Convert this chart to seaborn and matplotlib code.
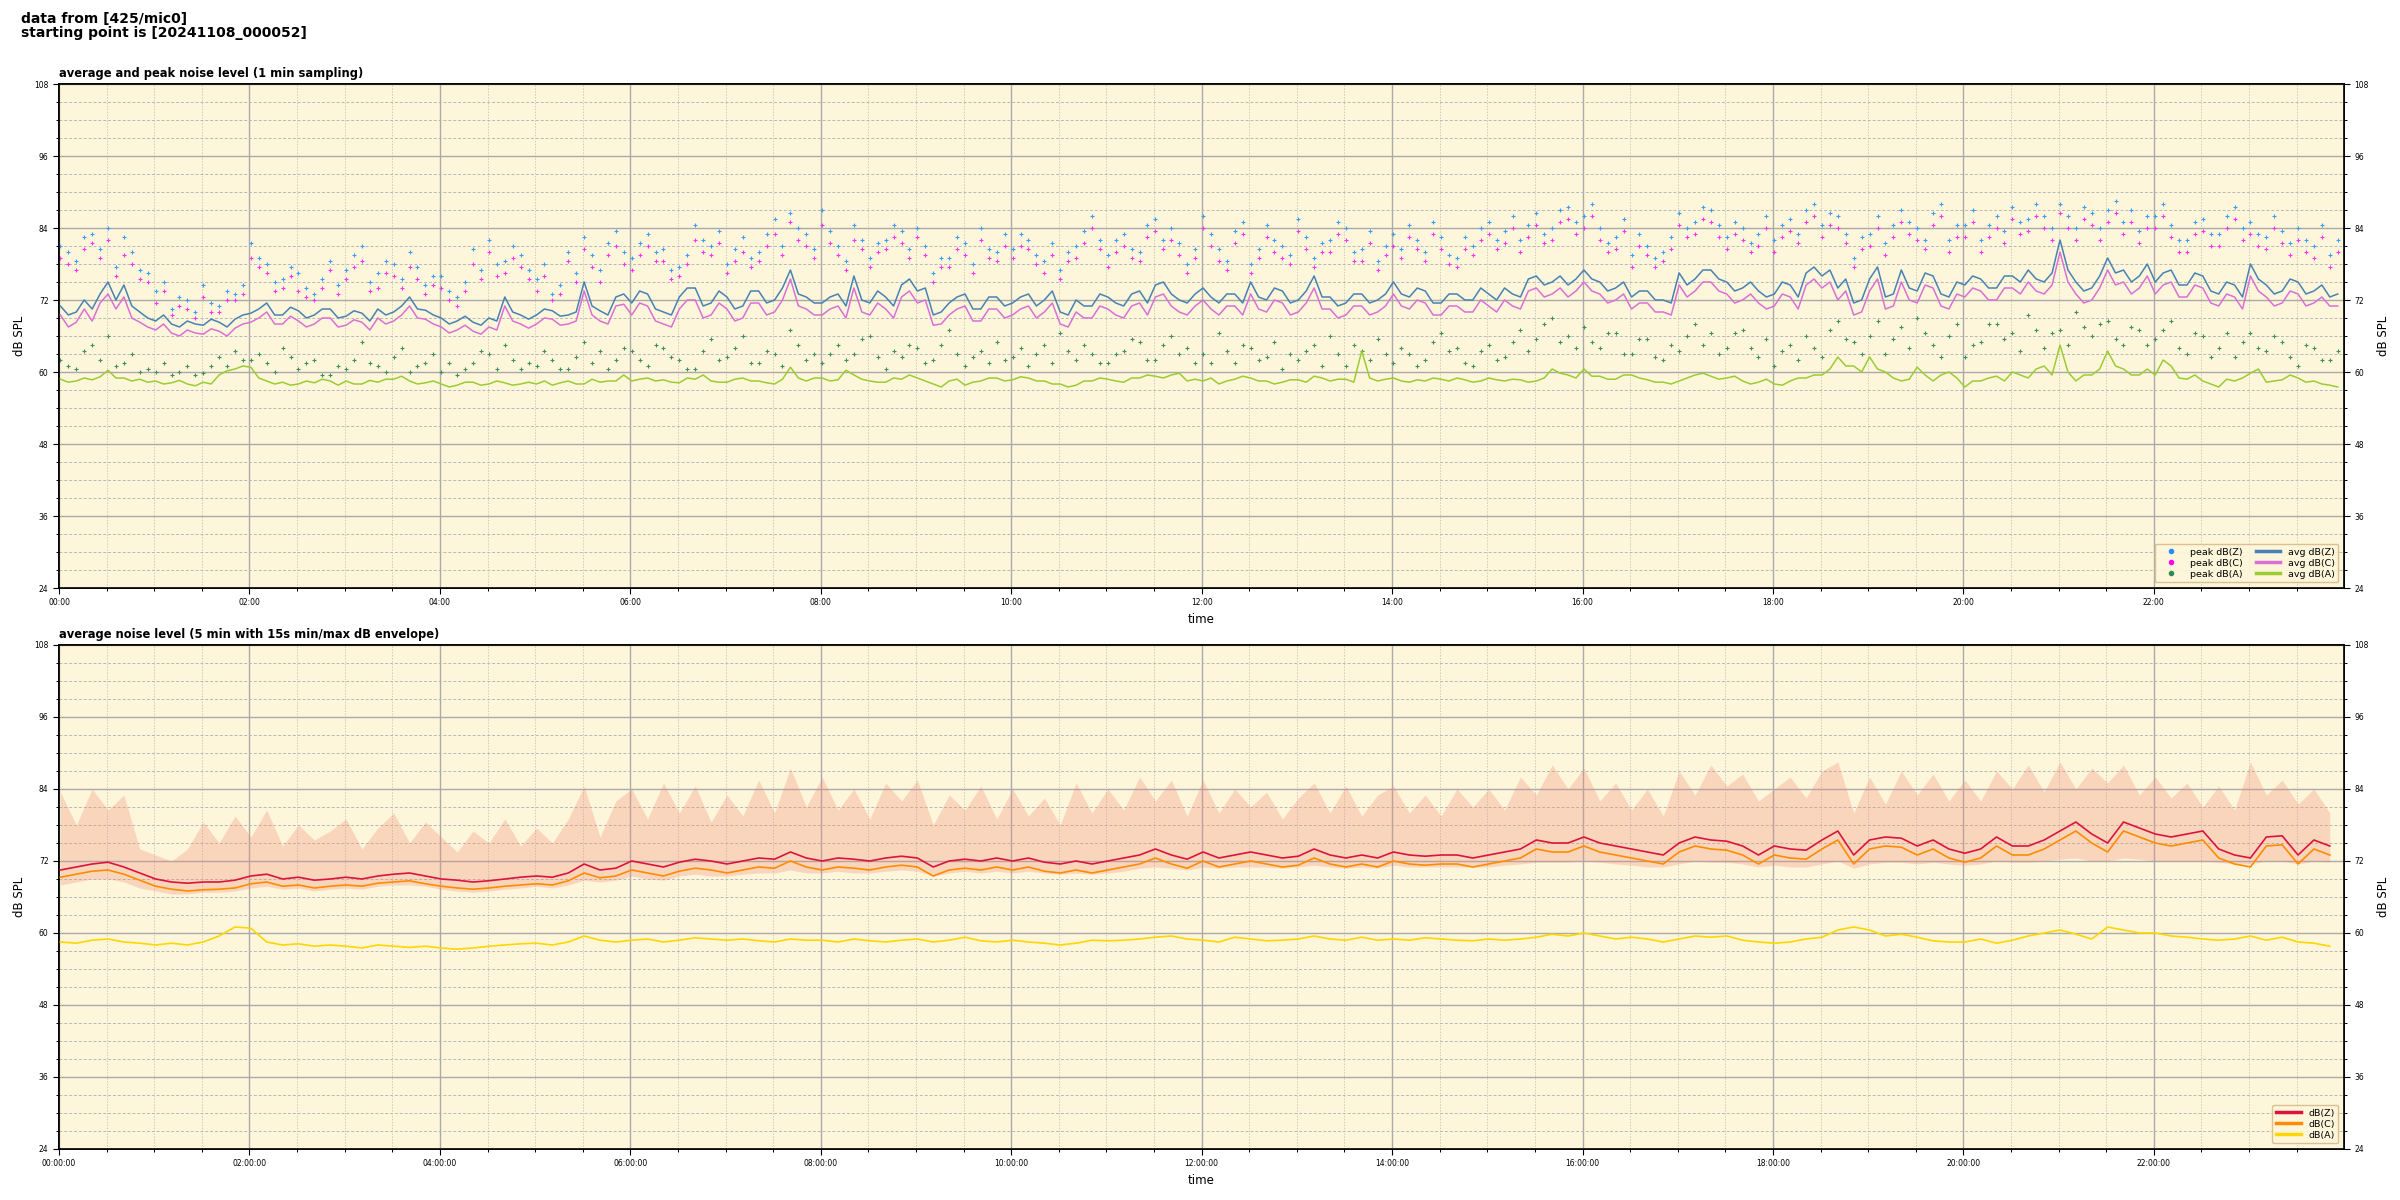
import numpy as np
import pandas as pd
import matplotlib
matplotlib.use("Agg")
import matplotlib.pyplot as plt
import matplotlib.dates as mdates
from matplotlib.lines import Line2D
from matplotlib.ticker import MultipleLocator
import seaborn as sns

# ---------------- top panel data (5-minute samples, one row per hour) ----------------
avg_z = [71.0, 69.5, 70.0, 72.0, 70.5, 73.0, 75.0, 72.0, 74.5, 71.0, 70.0, 69.0,
         68.5, 69.5, 68.0, 67.5, 68.5, 68.0, 67.8, 68.8, 68.3, 67.5, 68.8, 69.5,
         69.8, 70.5, 71.5, 69.5, 69.5, 70.8, 70.2, 69.0, 69.5, 70.5, 70.5, 69.0,
         69.3, 70.2, 69.8, 68.5, 70.5, 69.5, 70.0, 71.0, 72.5, 70.5, 70.3, 69.5,
         69.0, 68.0, 68.5, 69.3, 68.3, 67.8, 69.0, 68.5, 72.5, 70.0, 69.5, 68.8,
         69.5, 70.5, 70.2, 69.3, 69.5, 70.0, 75.0, 71.0, 70.2, 69.5, 72.5, 73.0,
         71.5, 73.5, 73.0, 70.5, 70.0, 69.5, 72.5, 74.0, 74.0, 71.0, 71.5, 73.5,
         72.5, 70.5, 71.0, 73.5, 73.5, 71.5, 72.0, 74.0, 77.0, 73.0, 72.5, 71.5,
         71.5, 72.5, 73.0, 71.0, 76.0, 72.0, 71.5, 73.5, 72.5, 71.0, 74.5, 75.5,
         73.5, 74.0, 69.5, 70.0, 71.5, 72.5, 73.0, 70.5, 70.5, 72.5, 72.5, 71.0,
         71.5, 72.5, 73.0, 71.0, 72.0, 73.5, 70.0, 69.5, 72.0, 71.0, 71.0, 73.0,
         72.5, 71.5, 71.0, 73.0, 73.5, 71.5, 74.5, 75.0, 73.0, 72.0, 71.5, 73.0,
         74.0, 72.5, 71.5, 73.0, 73.0, 71.5, 75.0, 72.5, 72.0, 74.0, 73.5, 71.5,
         72.0, 73.5, 76.0, 72.5, 72.5, 71.0, 71.5, 73.0, 73.0, 71.5, 72.0, 73.0,
         75.0, 73.0, 72.5, 74.0, 73.5, 71.5, 71.5, 73.0, 73.0, 72.0, 72.0, 74.0,
         73.0, 72.0, 74.0, 73.0, 72.5, 75.5, 76.0, 74.5, 75.0, 76.0, 74.5, 75.5,
         77.0, 75.5, 75.0, 73.5, 74.0, 75.0, 72.5, 73.5, 73.5, 72.0, 72.0, 71.5,
         76.5, 74.5, 75.5, 77.0, 77.0, 75.5, 75.0, 73.5, 74.0, 75.0, 73.5, 72.5,
         73.0, 75.0, 74.5, 72.5, 76.5, 77.5, 76.0, 77.0, 74.0, 75.5, 71.5, 72.0,
         75.5, 77.5, 72.5, 73.0, 77.0, 74.0, 73.5, 76.5, 76.0, 73.0, 72.5, 75.0,
         74.5, 76.0, 75.5, 74.0, 74.0, 76.0, 76.0, 75.0, 77.0, 75.5, 75.0, 76.5,
         82.0, 77.0, 75.0, 73.5, 74.0, 76.0, 79.0, 76.5, 77.0, 75.0, 76.0, 78.0,
         75.0, 76.5, 77.0, 74.5, 74.5, 76.5, 76.0, 73.5, 73.0, 75.0, 74.5, 72.5,
         78.0, 75.5, 74.5, 73.0, 73.5, 75.5, 75.0, 73.0, 73.5, 74.5, 72.5, 73.0]

avg_c = [69.5, 67.5, 68.3, 70.5, 68.5, 71.5, 73.0, 70.5, 72.5, 69.0, 68.3, 67.5,
         67.0, 68.0, 66.5, 66.0, 67.0, 66.5, 66.3, 67.2, 66.8, 66.0, 67.3, 68.0,
         68.3, 69.0, 70.0, 68.0, 68.0, 69.3, 68.5, 67.5, 68.0, 69.0, 69.0, 67.5,
         67.8, 68.7, 68.3, 67.0, 69.0, 68.0, 68.5, 69.5, 71.0, 69.0, 68.8, 68.0,
         67.5, 66.5, 67.0, 67.8, 66.8, 66.3, 67.5, 67.0, 71.0, 68.5, 68.0, 67.3,
         68.0, 69.0, 68.8, 67.8, 68.0, 68.5, 73.5, 69.5, 68.5, 68.0, 71.0, 71.3,
         69.5, 71.5, 71.0, 68.5, 68.0, 67.5, 70.5, 72.0, 72.0, 69.0, 69.5, 71.5,
         70.5, 68.5, 69.0, 71.5, 71.5, 69.5, 70.0, 72.0, 75.5, 71.0, 70.5, 69.5,
         69.5, 70.5, 71.0, 69.0, 74.0, 70.0, 69.5, 71.5, 70.5, 69.0, 72.5, 73.5,
         71.5, 72.0, 67.8, 68.0, 69.5, 70.5, 71.0, 68.5, 68.5, 70.5, 70.5, 69.0,
         69.5, 70.5, 71.0, 69.0, 70.0, 71.5, 68.0, 67.5, 70.0, 69.0, 69.0, 71.0,
         70.5, 69.5, 69.0, 71.0, 71.5, 69.5, 72.5, 73.0, 71.0, 70.0, 69.5, 71.0,
         72.0, 70.5, 69.5, 71.0, 71.0, 69.5, 73.0, 70.5, 70.0, 72.0, 71.5, 69.5,
         70.0, 71.5, 74.0, 70.5, 70.5, 69.0, 69.5, 71.0, 71.0, 69.5, 70.0, 71.0,
         73.0, 71.0, 70.5, 72.0, 71.5, 69.5, 69.5, 71.0, 71.0, 70.0, 70.0, 72.0,
         71.0, 70.0, 72.0, 71.0, 70.5, 73.5, 74.0, 72.5, 73.0, 74.0, 72.5, 73.5,
         75.0, 73.5, 73.0, 71.5, 72.0, 73.0, 70.5, 71.5, 71.5, 70.0, 70.0, 69.5,
         74.5, 72.5, 73.5, 75.0, 75.0, 73.5, 73.0, 71.5, 72.0, 73.0, 71.5, 70.5,
         71.0, 73.0, 72.5, 70.5, 74.5, 75.5, 74.0, 75.0, 72.0, 73.5, 69.5, 70.0,
         73.5, 75.5, 70.5, 71.0, 75.0, 72.0, 71.5, 74.5, 74.0, 71.0, 70.5, 73.0,
         72.5, 74.0, 73.5, 72.0, 72.0, 74.0, 74.0, 73.0, 75.0, 73.5, 73.0, 74.5,
         80.0, 75.0, 73.0, 71.5, 72.0, 74.0, 77.0, 74.5, 75.0, 73.0, 74.0, 76.0,
         73.0, 74.5, 75.0, 72.5, 72.5, 74.5, 74.0, 71.5, 71.0, 73.0, 72.5, 70.5,
         76.0, 73.5, 72.5, 71.0, 71.5, 73.5, 73.0, 71.0, 71.5, 72.5, 71.0, 71.0]

avg_a = [58.8, 58.3, 58.5, 59.0, 58.7, 59.2, 60.3, 59.0, 59.0, 58.5, 58.8, 58.3,
         58.5, 58.0, 58.2, 58.6, 58.0, 57.7, 58.3, 58.0, 59.5, 60.2, 60.5, 61.0,
         60.8, 59.0, 58.5, 58.0, 58.3, 57.8, 58.0, 58.5, 58.2, 58.8, 58.5, 57.8,
         58.5, 58.0, 58.0, 58.6, 58.3, 58.8, 58.8, 59.3, 58.5, 58.0, 58.2, 58.5,
         58.0, 57.5, 57.8, 58.3, 58.3, 57.8, 58.0, 58.5, 58.2, 57.8, 58.0, 58.3,
         58.0, 58.5, 57.8, 58.2, 58.5, 58.0, 58.0, 58.8, 58.3, 58.5, 58.5, 59.5,
         58.5, 58.8, 59.0, 58.5, 58.7, 58.3, 58.2, 59.0, 58.8, 59.5, 58.5, 58.3,
         58.3, 58.8, 59.0, 58.5, 58.5, 58.2, 58.0, 58.8, 60.8, 59.0, 58.5, 59.0,
         59.0, 58.5, 58.7, 60.3, 59.5, 58.8, 58.5, 58.3, 58.3, 59.0, 58.8, 59.5,
         59.0, 58.5, 58.0, 57.5, 58.5, 58.8, 57.8, 58.3, 58.5, 59.0, 59.0, 58.5,
         58.7, 59.2, 59.0, 58.5, 58.5, 58.0, 58.0, 57.5, 57.8, 58.5, 58.5, 59.0,
         58.8, 58.5, 58.3, 59.0, 59.0, 59.5, 59.3, 59.0, 59.5, 59.8, 58.5, 58.8,
         58.5, 59.0, 58.0, 58.5, 58.8, 59.3, 59.0, 58.5, 58.5, 58.0, 58.3, 58.7,
         58.7, 58.3, 59.3, 59.0, 58.5, 58.8, 58.8, 58.3, 63.5, 59.0, 58.5, 58.8,
         59.0, 58.5, 58.3, 58.7, 58.5, 59.0, 58.8, 58.5, 59.0, 58.7, 58.3, 58.5,
         59.0, 58.7, 58.5, 58.8, 58.7, 58.3, 58.5, 59.0, 60.5, 59.8, 59.5, 59.0,
         60.5, 59.3, 59.3, 58.8, 58.8, 59.5, 59.5, 59.0, 58.7, 58.3, 58.3, 58.0,
         58.5, 59.0, 59.5, 59.8, 59.3, 58.8, 59.0, 59.3, 58.5, 58.0, 58.3, 58.8,
         58.0, 57.8, 58.5, 59.0, 59.0, 59.5, 59.5, 60.5, 62.5, 61.0, 61.0, 60.0,
         62.5, 60.5, 60.0, 59.0, 58.5, 58.8, 60.8, 59.5, 58.5, 59.5, 60.0, 59.0,
         57.5, 58.5, 58.5, 59.0, 59.3, 58.5, 60.0, 59.5, 59.0, 60.5, 61.0, 59.5,
         64.5, 60.0, 58.5, 59.5, 59.5, 60.5, 63.5, 61.0, 60.5, 59.5, 59.5, 60.5,
         59.5, 62.0, 61.0, 59.0, 58.8, 59.5, 58.5, 58.0, 57.5, 58.8, 58.5, 59.0,
         59.8, 60.5, 58.3, 58.5, 58.7, 59.5, 59.0, 58.3, 58.5, 58.0, 57.8, 57.5]

peak_z = [81.0, 80.0, 78.5, 82.5, 83.0, 80.5, 84.0, 77.5, 82.5, 80.0, 77.0, 76.5,
          73.5, 75.0, 70.5, 72.5, 72.0, 70.0, 74.5, 71.5, 71.0, 73.5, 73.0, 74.5,
          81.5, 79.0, 78.0, 75.0, 75.5, 77.5, 76.5, 74.0, 73.0, 75.5, 78.5, 74.5,
          77.0, 79.5, 81.0, 75.0, 76.5, 78.5, 78.0, 75.5, 80.0, 77.5, 74.5, 76.0,
          76.0, 73.5, 72.5, 75.0, 80.5, 77.0, 82.0, 78.0, 78.5, 81.0, 79.5, 77.0,
          75.5, 78.0, 73.0, 74.5, 80.0, 76.5, 82.5, 79.5, 77.0, 81.5, 83.5, 80.0,
          79.0, 81.5, 83.0, 80.0, 80.5, 77.0, 77.5, 79.5, 84.5, 82.0, 81.0, 83.5,
          78.0, 80.5, 82.5, 79.0, 80.0, 83.0, 85.5, 81.0, 86.5, 84.0, 83.0, 80.5,
          87.0, 83.5, 81.0, 78.5, 84.5, 82.0, 79.0, 81.5, 82.0, 84.5, 83.5, 80.5,
          84.0, 81.0, 76.5, 79.0, 79.0, 82.5, 81.5, 78.0, 84.0, 80.5, 80.0, 83.0,
          80.5, 83.0, 82.0, 79.5, 78.5, 81.5, 77.0, 80.0, 81.0, 83.5, 86.0, 82.0,
          79.5, 82.0, 83.0, 80.5, 80.0, 84.5, 85.5, 82.0, 84.0, 81.5, 78.0, 80.5,
          86.0, 83.0, 80.5, 78.5, 83.5, 85.0, 78.0, 80.5, 84.5, 82.0, 81.0, 79.5,
          85.5, 82.5, 79.0, 81.5, 82.0, 85.0, 84.0, 80.0, 80.5, 83.5, 78.5, 81.0,
          83.0, 80.5, 84.5, 82.0, 80.0, 85.0, 82.5, 79.5, 79.0, 82.5, 81.0, 84.0,
          85.0, 82.0, 83.5, 86.0, 82.0, 84.5, 86.5, 83.0, 84.0, 87.0, 87.5, 85.0,
          86.0, 88.0, 84.0, 81.5, 82.5, 85.5, 79.5, 83.0, 81.0, 79.0, 80.0, 82.5,
          86.5, 84.0, 85.0, 87.5, 87.0, 84.5, 82.5, 85.0, 84.0, 81.5, 83.0, 86.0,
          82.0, 84.5, 85.5, 83.0, 87.0, 88.0, 84.5, 86.5, 86.0, 83.0, 79.0, 82.5,
          83.0, 86.0, 81.5, 84.5, 87.0, 85.0, 84.0, 82.0, 86.5, 88.0, 82.0, 84.5,
          84.5, 87.0, 82.0, 84.5, 86.0, 83.5, 87.5, 85.0, 85.5, 88.0, 86.0, 84.0,
          88.0, 86.0, 84.0, 87.5, 86.5, 84.0, 87.0, 88.5, 85.0, 87.0, 83.5, 86.0,
          86.0, 88.0, 84.5, 82.0, 82.0, 85.0, 85.5, 83.0, 83.0, 86.0, 87.5, 84.0,
          85.0, 83.0, 82.5, 86.0, 83.5, 81.5, 84.0, 82.0, 81.0, 84.5, 79.5, 82.0]

peak_c = [79.0, 78.0, 77.0, 80.5, 81.5, 79.0, 82.0, 76.0, 79.5, 78.0, 75.5, 75.0,
          71.5, 73.5, 69.5, 71.0, 70.5, 69.0, 72.5, 70.0, 70.0, 72.0, 72.0, 73.0,
          79.0, 77.5, 76.5, 73.5, 74.0, 76.0, 73.5, 72.5, 72.0, 74.0, 77.0, 73.0,
          75.5, 77.5, 78.5, 73.5, 74.0, 76.5, 76.0, 74.0, 77.5, 75.5, 73.0, 74.5,
          74.0, 72.0, 71.0, 73.5, 78.0, 75.5, 80.0, 76.0, 76.5, 79.0, 77.5, 75.5,
          73.5, 76.0, 72.0, 73.0, 78.5, 75.0, 80.5, 77.5, 75.0, 79.5, 81.0, 78.0,
          77.0, 79.5, 81.0, 78.5, 78.5, 75.5, 76.0, 78.0, 82.0, 80.0, 79.5, 81.5,
          76.5, 78.5, 80.0, 77.5, 78.5, 81.0, 83.0, 79.5, 85.0, 82.0, 81.0, 79.0,
          84.5, 81.5, 79.5, 77.0, 82.0, 80.5, 77.5, 80.0, 80.5, 82.5, 81.5, 79.0,
          82.5, 79.5, 75.0, 77.5, 77.5, 80.5, 79.5, 76.5, 82.0, 79.0, 78.5, 81.0,
          79.0, 81.0, 80.5, 78.0, 76.5, 79.5, 75.5, 78.5, 79.0, 81.5, 84.0, 80.5,
          77.5, 80.0, 81.0, 79.0, 78.5, 82.5, 83.5, 80.5, 82.0, 79.5, 76.5, 79.0,
          84.0, 81.0, 78.5, 77.0, 81.5, 83.0, 76.5, 79.0, 82.5, 80.0, 79.0, 78.0,
          83.5, 80.5, 77.5, 80.0, 80.0, 83.0, 82.0, 78.5, 78.5, 81.5, 77.0, 79.5,
          81.0, 79.0, 82.5, 80.5, 78.5, 83.0, 80.5, 78.0, 77.5, 80.5, 79.5, 82.0,
          83.0, 80.5, 81.5, 84.0, 80.0, 82.5, 84.5, 81.5, 82.0, 85.0, 85.5, 83.0,
          84.0, 86.0, 82.0, 80.0, 80.5, 83.5, 77.5, 81.0, 79.5, 77.5, 78.5, 80.5,
          84.5, 82.5, 83.0, 85.5, 85.0, 82.5, 80.5, 83.0, 82.0, 80.0, 81.0, 84.0,
          80.0, 82.5, 83.5, 81.5, 85.0, 86.0, 82.5, 84.5, 84.0, 81.5, 77.5, 80.5,
          81.0, 84.0, 79.5, 82.5, 85.0, 83.0, 82.0, 80.5, 84.5, 86.0, 80.0, 82.5,
          82.5, 85.0, 80.0, 82.5, 84.0, 81.5, 85.5, 83.0, 83.5, 86.0, 84.0, 82.0,
          86.5, 84.0, 82.0, 85.5, 84.5, 82.0, 85.0, 86.5, 83.0, 85.0, 81.5, 84.0,
          84.0, 86.0, 82.5, 80.0, 80.0, 83.0, 83.5, 81.0, 81.0, 84.0, 85.5, 82.0,
          83.0, 81.0, 80.5, 84.0, 81.5, 79.5, 82.0, 80.0, 79.0, 82.5, 77.5, 80.0]

peak_a = [62.0, 61.0, 60.5, 63.5, 64.5, 62.0, 66.0, 61.0, 61.5, 63.0, 60.0, 60.5,
          60.0, 61.5, 59.5, 60.0, 61.0, 59.5, 59.8, 61.0, 62.5, 61.0, 63.5, 62.0,
          62.0, 63.0, 61.5, 60.0, 64.0, 62.5, 60.5, 61.5, 62.0, 59.5, 59.5, 61.0,
          60.5, 62.0, 65.0, 61.5, 61.0, 60.0, 62.5, 64.0, 60.0, 61.0, 61.5, 63.0,
          60.0, 61.5, 59.5, 60.5, 61.5, 63.5, 63.0, 60.5, 64.5, 62.0, 60.5, 61.5,
          61.0, 63.5, 62.0, 60.5, 60.5, 62.5, 65.0, 61.5, 63.5, 60.5, 62.0, 64.0,
          63.5, 62.0, 61.0, 64.5, 64.0, 62.5, 62.0, 60.5, 60.5, 63.5, 65.5, 62.0,
          62.5, 64.0, 66.0, 61.5, 61.5, 63.5, 63.0, 61.0, 67.0, 64.5, 62.0, 63.0,
          61.5, 63.0, 64.5, 62.0, 63.0, 65.5, 66.0, 62.5, 60.5, 63.5, 62.5, 64.5,
          64.0, 61.5, 62.0, 64.5, 67.0, 63.0, 61.0, 62.5, 63.5, 61.5, 65.0, 62.0,
          62.5, 64.0, 61.0, 63.0, 64.5, 61.5, 66.5, 63.5, 62.0, 64.5, 63.0, 61.5,
          61.5, 63.0, 63.5, 65.5, 65.0, 62.0, 62.0, 64.5, 66.0, 63.0, 64.0, 61.5,
          63.0, 61.5, 66.5, 63.5, 61.5, 64.5, 64.0, 62.0, 62.5, 65.0, 60.5, 63.0,
          62.0, 63.5, 64.5, 61.0, 66.0, 63.0, 61.0, 64.5, 63.5, 62.0, 65.5, 63.0,
          61.5, 64.0, 63.0, 61.0, 62.0, 65.0, 66.5, 63.5, 64.0, 61.5, 61.0, 63.5,
          64.5, 62.0, 62.5, 65.0, 67.0, 63.5, 65.5, 68.0, 69.0, 65.0, 66.0, 64.0,
          67.5, 65.0, 64.0, 66.5, 66.5, 63.0, 63.0, 65.5, 65.5, 62.5, 62.0, 64.5,
          63.5, 66.0, 68.0, 64.5, 66.5, 63.0, 64.0, 66.5, 67.0, 64.0, 62.5, 65.5,
          61.0, 63.5, 64.5, 62.0, 66.0, 64.0, 62.5, 67.0, 68.5, 65.5, 65.0, 63.0,
          66.0, 68.5, 63.0, 65.5, 67.5, 64.0, 69.0, 66.5, 64.5, 62.5, 66.0, 68.0,
          62.5, 64.5, 65.0, 68.0, 68.0, 65.5, 66.5, 63.5, 69.5, 67.0, 64.0, 66.5,
          67.0, 64.5, 70.0, 67.5, 66.0, 68.0, 68.5, 65.5, 64.5, 67.5, 67.0, 64.5,
          65.5, 67.0, 68.5, 64.0, 63.0, 66.5, 66.0, 62.5, 64.0, 66.5, 62.5, 65.0,
          66.5, 64.0, 63.5, 66.0, 65.0, 62.5, 61.0, 64.5, 64.0, 62.0, 62.0, 63.5]

# ---------------- bottom panel data (10-minute samples, one row per hour) ----------------
lvl_z = [70.5, 71.0, 71.5, 71.8, 71.0, 70.0,
         69.0, 68.5, 68.3, 68.5, 68.5, 68.8,
         69.5, 69.8, 69.0, 69.3, 68.8, 69.0,
         69.3, 69.0, 69.5, 69.8, 70.0, 69.5,
         69.0, 68.8, 68.5, 68.7, 69.0, 69.3,
         69.5, 69.3, 70.0, 71.5, 70.5, 70.8,
         72.0, 71.5, 71.0, 71.8, 72.3, 72.0,
         71.5, 72.0, 72.5, 72.3, 73.5, 72.5,
         72.0, 72.5, 72.3, 72.0, 72.5, 72.8,
         72.5, 71.0, 72.0, 72.3, 72.0, 72.5,
         72.0, 72.5, 71.8, 71.5, 72.0, 71.5,
         72.0, 72.5, 73.0, 74.0, 73.0, 72.3,
         73.5, 72.5, 73.0, 73.5, 73.0, 72.5,
         72.8, 74.0, 73.0, 72.5, 73.0, 72.5,
         73.5, 73.0, 72.8, 73.0, 73.0, 72.5,
         73.0, 73.5, 74.0, 75.5, 75.0, 75.0,
         76.0, 75.0, 74.5, 74.0, 73.5, 73.0,
         75.0, 76.0, 75.5, 75.3, 74.5, 73.0,
         74.5, 74.0, 73.8, 75.5, 77.0, 73.0,
         75.5, 76.0, 75.8, 74.5, 75.5, 74.0,
         73.3, 74.0, 76.0, 74.5, 74.5, 75.5,
         77.0, 78.5, 76.5, 75.0, 78.5, 77.5,
         76.5, 76.0, 76.5, 77.0, 74.0, 73.0,
         72.5, 76.0, 76.2, 73.0, 75.5, 74.5]

lvl_c = [69.3, 69.8, 70.3, 70.5, 69.8, 68.8,
         67.8, 67.3, 67.0, 67.2, 67.3, 67.5,
         68.2, 68.5, 67.8, 68.0, 67.5, 67.8,
         68.0, 67.8, 68.3, 68.5, 68.7, 68.2,
         67.8, 67.5, 67.3, 67.5, 67.8, 68.0,
         68.2, 68.0, 68.7, 70.0, 69.2, 69.5,
         70.5, 70.0, 69.5, 70.3, 70.8, 70.5,
         70.0, 70.5, 71.0, 70.8, 72.0, 71.0,
         70.5, 71.0, 70.8, 70.5, 71.0, 71.3,
         71.0, 69.5, 70.5, 70.8, 70.5, 71.0,
         70.5, 71.0, 70.3, 70.0, 70.5, 70.0,
         70.5, 71.0, 71.5, 72.5, 71.5, 70.8,
         72.0, 71.0, 71.5, 72.0, 71.5, 71.0,
         71.3, 72.5, 71.5, 71.0, 71.5, 71.0,
         72.0, 71.5, 71.3, 71.5, 71.5, 71.0,
         71.5, 72.0, 72.5, 74.0, 73.5, 73.5,
         74.5, 73.5, 73.0, 72.5, 72.0, 71.5,
         73.5, 74.5, 74.0, 73.8, 73.0, 71.5,
         73.0, 72.5, 72.3, 74.0, 75.5, 71.5,
         74.0, 74.5, 74.3, 73.0, 74.0, 72.5,
         71.8, 72.5, 74.5, 73.0, 73.0, 74.0,
         75.5, 77.0, 75.0, 73.5, 77.0, 76.0,
         75.0, 74.5, 75.0, 75.5, 72.5, 71.5,
         71.0, 74.5, 74.7, 71.5, 74.0, 73.0]

lvl_a = [58.5, 58.3, 58.8, 59.0, 58.5, 58.3,
         58.0, 58.3, 58.0, 58.5, 59.5, 61.0,
         60.8, 58.5, 58.0, 58.2, 57.8, 58.0,
         57.8, 57.5, 58.0, 57.8, 57.6, 57.8,
         57.5, 57.3, 57.5, 57.8, 58.0, 58.2,
         58.3, 58.0, 58.5, 59.5, 58.8, 58.5,
         58.8, 59.0, 58.5, 58.8, 59.2, 59.0,
         58.8, 59.0, 58.7, 58.5, 59.0, 58.8,
         58.8, 58.5, 59.0, 58.7, 58.5, 58.8,
         59.0, 58.5, 58.8, 59.3, 58.7, 58.5,
         58.8, 58.5, 58.3, 58.0, 58.3, 58.8,
         58.7, 58.8, 59.0, 59.3, 59.5, 59.0,
         58.8, 58.5, 59.3, 59.0, 58.7, 58.8,
         59.0, 59.5, 59.0, 58.8, 59.3, 58.8,
         59.0, 58.8, 59.2, 59.0, 58.8, 58.7,
         59.0, 58.8, 59.0, 59.3, 59.8, 59.5,
         60.0, 59.5, 59.0, 59.3, 59.0, 58.5,
         59.0, 59.5, 59.3, 59.5, 58.8, 58.5,
         58.3, 58.5, 59.0, 59.3, 60.5, 61.0,
         60.5, 59.5, 59.8, 59.3, 58.7, 58.5,
         58.5, 59.0, 58.3, 58.8, 59.5, 60.0,
         60.5, 59.8, 59.0, 61.0, 60.5, 60.0,
         60.0, 59.5, 59.3, 59.0, 58.8, 59.0,
         59.5, 58.8, 59.3, 58.5, 58.3, 57.8]

env_hi = [83.5, 78.0, 84.0, 80.5, 83.0, 74.0,
          73.0, 72.0, 74.0, 78.5, 75.0, 79.5,
          76.0, 80.5, 74.5, 78.0, 75.5, 77.0,
          79.0, 74.0, 77.5, 80.0, 75.0, 78.5,
          76.0, 73.5, 77.0, 75.0, 79.0, 74.5,
          77.5, 75.0, 79.0, 84.5, 76.0, 82.0,
          84.0, 79.0, 85.0, 80.0, 84.5, 78.5,
          83.0, 79.5, 85.5, 80.0, 87.5, 81.0,
          86.0, 80.5, 84.0, 79.0, 85.0, 82.0,
          85.5, 78.0, 83.0, 80.5, 84.5, 79.0,
          84.0, 79.5, 82.5, 78.0, 85.0, 80.0,
          84.0, 80.5, 86.0, 82.0, 85.5, 79.5,
          85.5, 80.0, 84.0, 81.0, 83.5, 79.0,
          82.5, 85.0, 80.0, 84.5, 79.5, 83.0,
          84.5, 80.0, 83.0, 79.5, 84.0, 81.0,
          84.0, 80.5, 86.0, 83.0, 88.0, 84.0,
          87.5, 82.0, 85.0, 80.5, 84.0, 79.5,
          87.0, 83.0, 88.0, 84.5, 86.5, 82.0,
          84.0, 86.0, 82.5, 87.0, 88.5, 80.0,
          86.0, 81.5, 87.0, 83.0, 86.5, 82.0,
          85.5, 82.0, 87.0, 84.0, 88.0, 83.5,
          88.5, 84.0, 87.5, 85.0, 88.0, 83.0,
          86.0, 82.5, 85.0, 81.0, 84.5, 80.5,
          88.5, 83.0, 85.5, 81.5, 84.0, 80.0]

env_lo = [68.0, 68.5, 69.0, 69.0, 68.5, 67.5,
          67.0, 66.5, 66.5, 66.8, 66.8, 67.0,
          67.5, 67.8, 67.3, 67.5, 67.0, 67.3,
          67.5, 67.3, 67.8, 68.0, 68.0, 67.8,
          67.3, 67.0, 66.8, 67.0, 67.3, 67.5,
          67.8, 67.5, 68.0, 68.8, 68.5, 68.8,
          69.5, 69.0, 68.8, 69.5, 69.8, 69.5,
          69.5, 69.8, 70.0, 70.0, 70.5, 70.0,
          70.0, 70.3, 70.0, 70.0, 70.3, 70.5,
          70.3, 69.5, 70.0, 70.3, 70.0, 70.3,
          70.0, 70.3, 70.0, 69.8, 70.0, 69.8,
          70.0, 70.3, 70.8, 71.0, 70.8, 70.5,
          71.0, 70.8, 71.0, 71.0, 71.0, 70.8,
          71.0, 71.3, 71.0, 70.8, 71.0, 70.8,
          71.3, 71.0, 71.0, 71.0, 71.0, 71.0,
          71.0, 71.3, 71.5, 71.8, 71.8, 71.8,
          72.0, 71.8, 71.5, 71.3, 71.0, 71.0,
          71.5, 72.0, 71.8, 71.8, 71.5, 71.0,
          71.3, 71.0, 71.0, 71.5, 72.0, 70.8,
          71.5, 71.8, 71.8, 71.5, 71.8, 71.5,
          71.3, 71.5, 72.0, 71.8, 71.8, 72.0,
          72.3, 72.5, 72.0, 72.0, 72.5, 72.3,
          72.0, 72.0, 72.0, 72.0, 71.8, 71.5,
          71.5, 72.0, 72.0, 71.5, 72.0, 71.8]

y_ticks = [24, 36, 48, 60, 72, 84, 96, 108]
title_top = "average and peak noise level (1 min sampling)"
title_bottom = "average noise level (5 min with 15s min/max dB envelope)"
header = "data from [425/mic0]\nstarting point is [20241108_000052]"

# ---------------- frames ----------------
start = pd.Timestamp("2024-11-08 00:00:52")
top = pd.DataFrame({"time": pd.date_range(start, periods=len(avg_z), freq="5min"),
                    "avg_z": avg_z, "avg_c": avg_c, "avg_a": avg_a,
                    "peak_z": peak_z, "peak_c": peak_c, "peak_a": peak_a})
bot = pd.DataFrame({"time": pd.date_range(start, periods=len(lvl_z), freq="10min"),
                    "lvl_z": lvl_z, "lvl_c": lvl_c, "lvl_a": lvl_a,
                    "env_hi": env_hi, "env_lo": env_lo})

BG = "#fef6da"
plt.rcParams.update({
    "font.family": ["DejaVu Sans"],
    "axes.edgecolor": "black",
    "axes.linewidth": 1.2,
    "xtick.direction": "out",
    "ytick.direction": "out",
})

fig = plt.figure(figsize=(24, 12), dpi=100)
ax1 = fig.add_axes([0.0246, 0.51, 0.9521, 0.42])
ax2 = fig.add_axes([0.0246, 0.0425, 0.9521, 0.42])

fig.text(0.0088, 0.99, header, ha="left", va="top", fontsize=10,
         fontweight="bold", linespacing=1.0)

# ---------------- top panel ----------------
for col, c in [("peak_z", "#3d9cf5"), ("peak_c", "#ff33ee"), ("peak_a", "#3f8f5a")]:
    sns.scatterplot(data=top, x="time", y=col, ax=ax1, marker="+", s=11,
                    color=c, linewidth=0.8, zorder=2)
sns.lineplot(data=top, x="time", y="avg_c", ax=ax1, color="#da70d6", lw=1.1, zorder=3)
sns.lineplot(data=top, x="time", y="avg_z", ax=ax1, color="#4682b4", lw=1.1, zorder=4)
sns.lineplot(data=top, x="time", y="avg_a", ax=ax1, color="#9acd32", lw=1.1, zorder=3)

# ---------------- bottom panel ----------------
ax2.fill_between(bot["time"], bot["env_lo"], bot["env_hi"], color="#ee8a78",
                 alpha=0.30, lw=0, zorder=2)
sns.lineplot(data=bot, x="time", y="lvl_z", ax=ax2, color="#dc143c", lw=1.2, zorder=4)
sns.lineplot(data=bot, x="time", y="lvl_c", ax=ax2, color="#ff8c00", lw=1.2, zorder=3)
sns.lineplot(data=bot, x="time", y="lvl_a", ax=ax2, color="#ffd700", lw=1.2, zorder=3)

x0 = pd.Timestamp("2024-11-08 00:00:00")
x1 = pd.Timestamp("2024-11-08 23:59:52")

for ax, fmt, title in [(ax1, "%H:%M", title_top), (ax2, "%H:%M:%S", title_bottom)]:
    ax.set_facecolor(BG)
    ax.set_xlim(x0, x1)
    ax.set_ylim(24, 108)
    ax.set_yticks(y_ticks)
    ax.yaxis.set_minor_locator(MultipleLocator(3))
    ax.xaxis.set_major_locator(mdates.HourLocator(byhour=range(0, 24, 2)))
    ax.xaxis.set_minor_locator(mdates.MinuteLocator(byminute=[0, 30]))
    ax.xaxis.set_major_formatter(mdates.DateFormatter(fmt))
    ax.grid(which="major", color="#aaaaaa", lw=1.0, ls="-", zorder=0)
    ax.grid(which="minor", axis="y", color="#b8b8b8", lw=0.7, ls=(0, (3, 2)), zorder=0)
    ax.grid(which="minor", axis="x", color="#cfcabb", lw=0.7, ls=(0, (1.5, 1.5)), zorder=0)
    ax.set_axisbelow(True)
    ax.tick_params(which="major", labelsize=5.5, length=4, width=0.8)
    ax.tick_params(which="minor", length=2.5, width=0.7)
    ax.set_xlabel("time", fontsize=8.5, labelpad=4)
    ax.set_ylabel("dB SPL", fontsize=8.5, labelpad=6)
    ax.set_title(title, loc="left", fontsize=8.3, fontweight="bold", pad=5)
    for s in ax.spines.values():
        s.set_linewidth(1.2)
    twin = ax.twinx()
    twin.set_ylim(24, 108)
    twin.set_yticks(y_ticks)
    twin.yaxis.set_minor_locator(MultipleLocator(3))
    twin.tick_params(which="major", labelsize=5.5, length=4, width=0.8)
    twin.tick_params(which="minor", length=2.5, width=0.7)
    twin.set_ylabel("dB SPL", fontsize=8.5, labelpad=6)

# ---------------- legends ----------------
h_top = [
    Line2D([], [], ls="", marker="o", ms=3, color="#1e90ff", label="peak dB(Z)"),
    Line2D([], [], ls="", marker="o", ms=3, color="#ff00ee", label="peak dB(C)"),
    Line2D([], [], ls="", marker="o", ms=3, color="#2e8b57", label="peak dB(A)"),
    Line2D([], [], color="#4682b4", lw=2.5, label="avg dB(Z)"),
    Line2D([], [], color="#da70d6", lw=2.5, label="avg dB(C)"),
    Line2D([], [], color="#9acd32", lw=2.5, label="avg dB(A)"),
]
ax1.legend(handles=h_top, loc="lower right", ncol=2, fontsize=6.8,
           facecolor=BG, edgecolor="#d9b98a", framealpha=0.9,
           handlelength=2.6, columnspacing=1.3, labelspacing=0.2,
           borderaxespad=0.6)
h_bot = [
    Line2D([], [], color="#dc143c", lw=2.5, label="dB(Z)"),
    Line2D([], [], color="#ff8c00", lw=2.5, label="dB(C)"),
    Line2D([], [], color="#ffd700", lw=2.5, label="dB(A)"),
]
ax2.legend(handles=h_bot, loc="lower right", fontsize=6.8,
           facecolor=BG, edgecolor="#d9b98a", framealpha=0.9,
           handlelength=2.6, labelspacing=0.2, borderaxespad=0.6)
ax1.set_zorder(2)
ax2.set_zorder(2)

fig.savefig("out.png", dpi=100)
